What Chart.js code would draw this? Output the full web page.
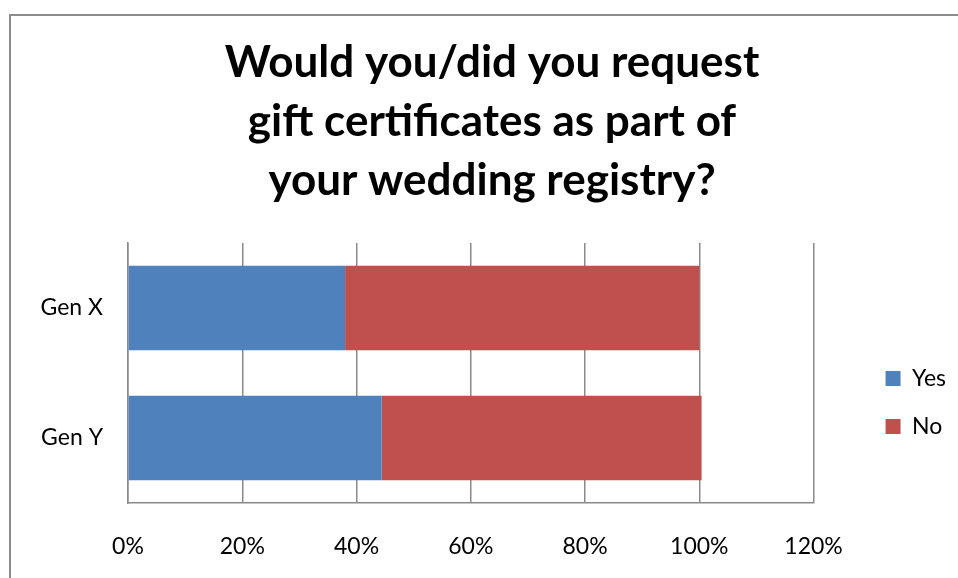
<!DOCTYPE html>
<html>
<head>
<meta charset="utf-8">
<script src="https://cdn.jsdelivr.net/npm/chart.js@4.4.0/dist/chart.umd.min.js"></script>
<style>
  html, body { margin: 0; padding: 0; background: #fff; overflow: hidden; }
  #frame {
    position: absolute; left: 9px; top: 14px;
    width: 1000px; height: 620px;
    border: 2px solid #8c8c8c;
  }
  #myChart { position: absolute; left: 0; top: 0; }
</style>
</head>
<body>
<div id="frame"></div>
<canvas id="myChart" width="958" height="578"></canvas>
<script>
var titleLines = ['Would you/did you request', 'gift certificates as part of', 'your wedding registry?'];
var categories = ['Gen X', 'Gen Y'];
var yesValues = [38, 44.4];
var noValues = [62, 56];
var xTicks = [0, 20, 40, 60, 80, 100, 120];

var gridGrey = '#8a8a8a';
Chart.defaults.font.family = 'Lato';
Chart.defaults.color = '#000';

var ctx = document.querySelector('#myChart').getContext('2d');
var myChart = new Chart(ctx, {
    type: 'bar',
    data: {
        labels: categories,
        datasets: [{
            label: 'Yes',
            data: yesValues,
            backgroundColor: '#4f81bd',
            yAxisID: 'y'
        }, {
            label: 'No',
            data: noValues,
            backgroundColor: '#c0504d',
            yAxisID: 'y'
        }]
    },
    options: {
        indexAxis: 'y',
        responsive: false,
        animation: false,
        layout: { padding: { left: 28, right: 2, top: 0, bottom: 16 } },
        datasets: {
            bar: { categoryPercentage: 1, barPercentage: 0.65 }
        },
        scales: {
            x: {
                stacked: true,
                min: 0,
                max: 120,
                afterBuildTicks: function (s) {
                    s.ticks = xTicks.map(function (v) { return { value: v }; });
                },
                afterFit: function (s) { s.height = 59; },
                grid: { color: gridGrey, lineWidth: 1.5, drawTicks: false },
                border: { color: gridGrey, width: 1.5 },
                ticks: {
                    padding: 30,
                    font: { size: 23 },
                    callback: function (v) { return v + '%'; }
                }
            },
            y: {
                stacked: true,
                afterFit: function (s) { s.width = 100; },
                grid: { display: false, drawTicks: false },
                border: { color: gridGrey, width: 1.5 },
                ticks: { padding: 25, font: { size: 23 } }
            },
            // spacer between the plot and the legend
            y2: {
                axis: 'y',
                type: 'category',
                position: 'right',
                afterFit: function (s) { s.width = 47; },
                grid: { display: false, drawTicks: false },
                border: { display: false },
                ticks: { display: false }
            }
        },
        plugins: {
            title: {
                display: true,
                text: titleLines,
                color: '#000',
                font: { size: 44, weight: 'bold', lineHeight: 59 / 44 },
                padding: { top: 33, bottom: 33 }
            },
            legend: {
                position: 'right',
                // empty title only pushes the items down to mid height
                title: {
                    display: true,
                    text: '',
                    font: { size: 10, lineHeight: 1 },
                    padding: { top: 233, bottom: 0 }
                },
                labels: {
                    boxWidth: 15,
                    boxHeight: 15,
                    padding: 25,
                    font: { size: 23 }
                }
            },
            tooltip: { enabled: false }
        }
    }
});
</script>
</body>
</html>
